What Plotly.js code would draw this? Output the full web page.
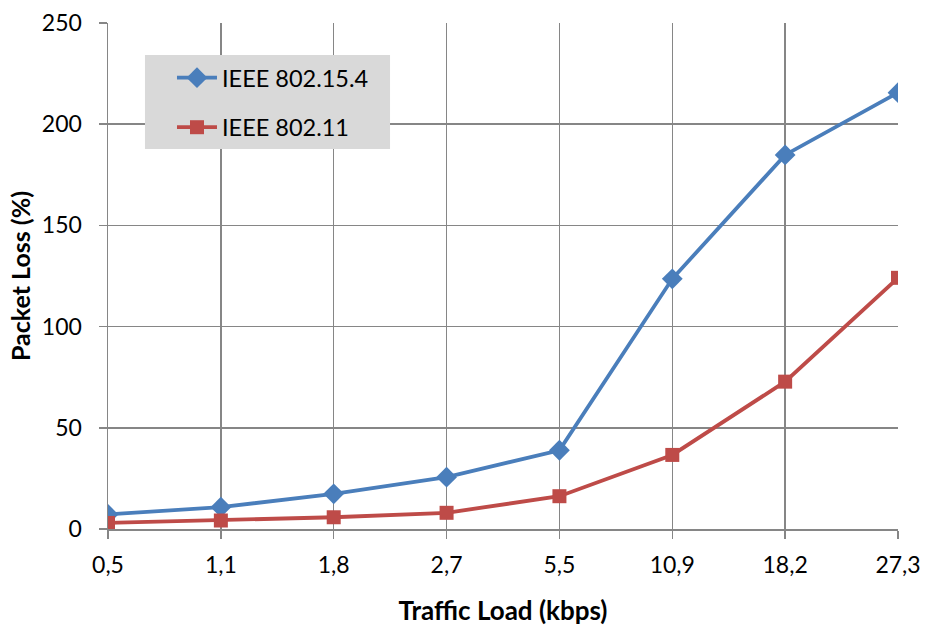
<!DOCTYPE html>
<html>
<head>
<meta charset="utf-8">
<script src="https://cdn.plot.ly/plotly-3.0.1.min.js"></script>
<style>html,body{margin:0;padding:0;background:#fff;}#chart{width:927px;height:626px;}</style>
</head>
<body>
<div id="chart"></div>
<script>
const categories = ["0,5", "1,1", "1,8", "2,7", "5,5", "10,9", "18,2", "27,3"];
const ieee802154 = [7.2, 10.8, 17.4, 25.6, 38.9, 123.6, 184.8, 215.6];
const ieee80211 = [3.0, 4.2, 5.8, 8.0, 16.2, 36.6, 72.8, 124.1];
const seriesNames = ["IEEE 802.15.4", "IEEE 802.11"];
const yTicks = [0, 50, 100, 150, 200, 250];

const font = "Lato, 'Liberation Sans', sans-serif";
const traces = [
  {x: categories, y: ieee802154, name: seriesNames[0], legendgroup: 'a', type: 'scatter', mode: 'lines+markers',
   line: {color: '#4a7ebb', width: 3.8}, marker: {symbol: 'diamond', size: 16, color: '#4a7ebb'}},
  {x: categories, y: ieee80211, name: seriesNames[1], legendgroup: 'b', type: 'scatter', mode: 'lines+markers',
   line: {color: '#be4b48', width: 3.8}, marker: {symbol: 'square', size: 14, color: '#be4b48'}}
];
const layout = {
  width: 927, height: 626,
  margin: {l: 108, r: 29, t: 23, b: 96.5},
  paper_bgcolor: '#fff', plot_bgcolor: '#fff',
  font: {family: font, size: 23, color: '#000'},
  showlegend: true,
  legend: {x: 0.081, y: 0.935, xanchor: 'left', yanchor: 'top', bgcolor: 'rgba(0,0,0,0)',
           font: {family: font, size: 23.5, color: '#000'}, itemwidth: 40, tracegroupgap: 16,
           borderwidth: 0},
  shapes: [{type: 'rect', xref: 'paper', yref: 'paper', x0: 0.0468, x1: 0.357, y0: 0.751, y1: 0.937,
            fillcolor: '#d9d9d9', line: {width: 0}, layer: 'above'}],
  xaxis: {type: 'category', range: [0, 7], showgrid: true, gridcolor: '#868686', gridwidth: 1.5,
          showline: true, linecolor: '#868686', linewidth: 1.5, ticks: 'outside', ticklen: 8,
          tickcolor: '#868686', tickwidth: 1.5, zeroline: false, ticklabelstandoff: 7,
          title: {text: '<b>Traffic Load (kbps)</b>', font: {family: font, size: 26}, standoff: 26}},
  yaxis: {range: [0, 250], tickvals: yTicks, showgrid: true, gridcolor: '#868686', gridwidth: 1.5,
          showline: true, linecolor: '#868686', linewidth: 1.5, ticks: 'outside', ticklen: 8,
          tickcolor: '#868686', tickwidth: 1.5, zeroline: false, ticklabelstandoff: 12,
          title: {text: '<b>Packet Loss (%)</b>', font: {family: font, size: 25}, standoff: 4}}
};
Plotly.newPlot('chart', traces, layout, {displayModeBar: false, staticPlot: true});
</script>
</body>
</html>
